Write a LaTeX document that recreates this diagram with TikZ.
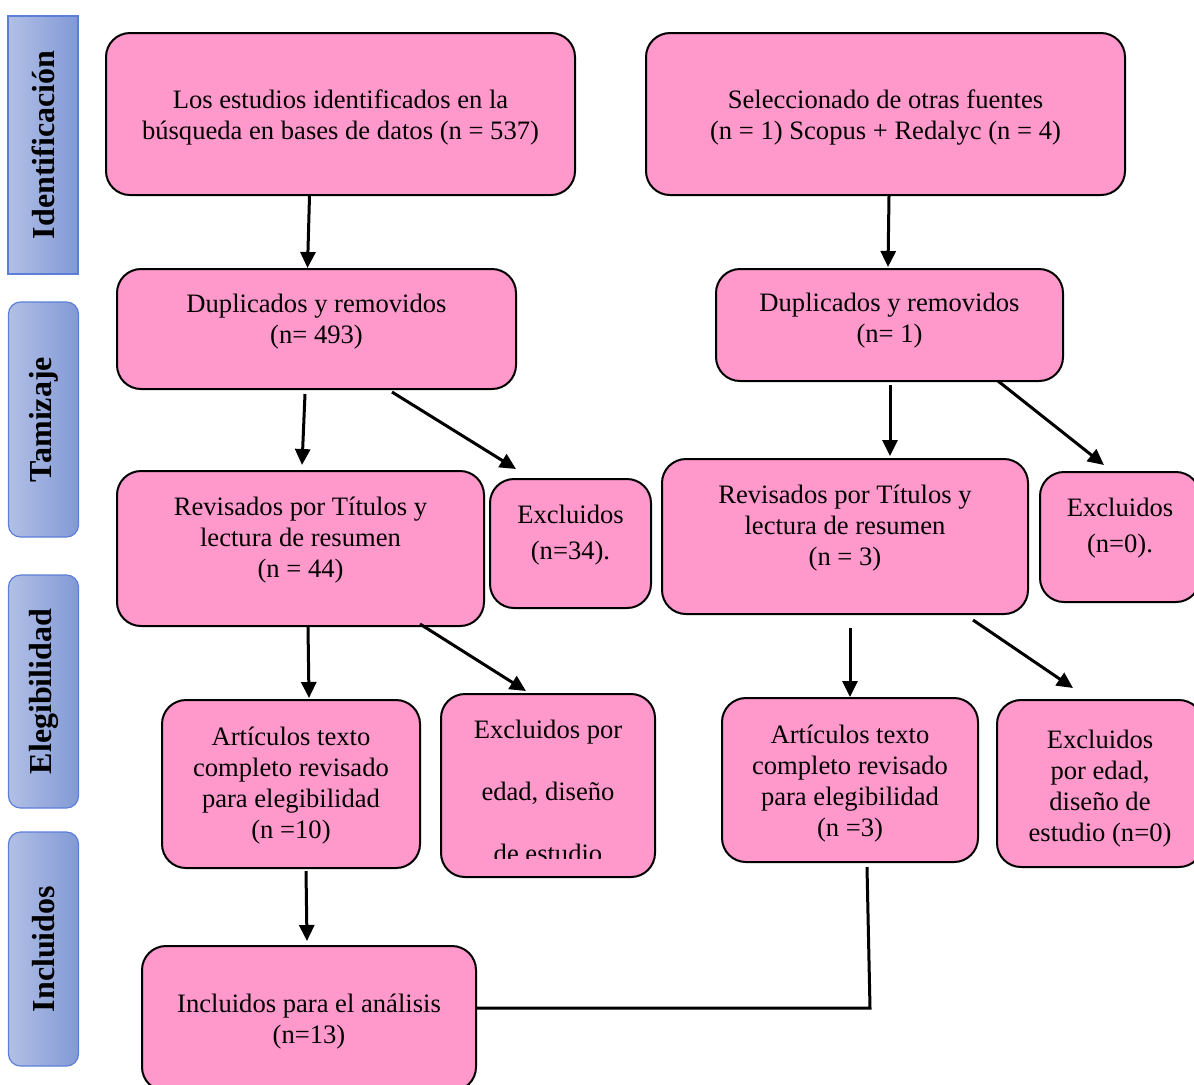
\documentclass[tikz,border=0pt]{standalone}
\usepackage{fontspec}
\setmainfont{Liberation Serif}
\usetikzlibrary{arrows.meta,calc}
\definecolor{rosa}{HTML}{FF99CC}
\definecolor{azulclaro}{HTML}{B2C0E6}
\definecolor{azuloscuro}{HTML}{8299D6}
\definecolor{azulborde}{HTML}{5B7FD6}

\begin{document}
\begin{tikzpicture}[x=0.5pt,y=-0.5pt,
    texto/.style={align=center, font=\fontsize{13.3}{15.5}\selectfont},
    caja/.style={draw=black, line width=1pt, fill=rosa, rounded corners=12pt, inner sep=2pt, texto},
    fase/.style={draw=azulborde, line width=0.6pt, left color=azulclaro, right color=azuloscuro, minimum width=35pt, inner sep=0pt, font=\fontsize{16}{18}\selectfont\bfseries},
    flecha/.style={line width=1.5pt, -{Triangle[length=8pt,width=7.5pt]}},
    linea/.style={line width=1.5pt}]
      \useasboundingbox (0,0) rectangle (1194,1084);

      \node[fase, minimum height=129pt] (idf) at (43,145) {\rotatebox{90}{Identificación}};
      \node[fase, rounded corners=6pt, minimum height=117.5pt] (tam) at (43.5,419.5) {\rotatebox{90}{Tamizaje}};
      \node[fase, rounded corners=6pt, minimum height=116.5pt] (ele) at (43.5,691.5) {\rotatebox{90}{Elegibilidad}};
      \node[fase, rounded corners=6pt, minimum height=117pt] (inc) at (43.5,949) {\rotatebox{90}{Incluidos}};

      \node[caja, minimum width=234.5pt, minimum height=81pt, label={[texto, yshift=-1.5pt]center:Los estudios identificados en la\\búsqueda en bases de datos (n = 537)}] (srcA) at (340.5,114) {};
      \node[caja, minimum width=239.5pt, minimum height=81pt, label={[texto, yshift=-1.5pt]center:Seleccionado de otras fuentes\\(n = 1) Scopus + Redalyc (n = 4)}] (srcB) at (885.5,114) {};
      \node[caja, minimum width=199.5pt, minimum height=60pt, label={[texto, yshift=3.5pt]center:Duplicados y removidos\\(n= 493)}] (dupA) at (316.5,329) {};
      \node[caja, minimum width=173.5pt, minimum height=56pt, label={[texto, yshift=2pt]center:Duplicados y removidos\\(n= 1)}] (dupB) at (889.5,325) {};
      \node[caja, minimum width=183.5pt, minimum height=77.5pt, label={[texto, yshift=4pt]center:Revisados por Títulos y\\lectura de resumen\\(n = 44)}] (revA) at (300.5,548.5) {};
      \node[caja, minimum width=80.5pt, minimum height=64.5pt, label={[texto, yshift=4pt]center:Excluidos\\[2.5pt](n=34).}] (excA) at (570.5,543.5) {};
      \node[caja, minimum width=183pt, minimum height=77.5pt, label={[texto, yshift=4pt]center:Revisados por Títulos y\\lectura de resumen\\(n = 3)}] (revB) at (845,536.5) {};
      \node[caja, minimum width=80pt, minimum height=65pt, label={[texto, yshift=4.5pt]center:Excluidos\\[2.5pt](n=0).}] (excB) at (1120,537) {};
      \node[caja, minimum width=129pt, minimum height=84pt, label={[texto, yshift=-1pt]center:Artículos texto\\completo revisado\\para elegibilidad\\(n =10)}] (artA) at (291,784) {};
      \node[caja, minimum width=107pt, minimum height=91.5pt] (edaA) at (548,785.5) {};
      \begin{scope}
        \clip (441,694) rectangle (655,858);
        \node[texto] (edaAtxt) at (548,791) {Excluidos por\\[15.5pt]edad, diseño\\[15.5pt]de estudio};
      \end{scope}
      \node[caja, minimum width=128pt, minimum height=82pt, label={[texto, yshift=-2pt]center:Artículos texto\\completo revisado\\para elegibilidad\\(n =3)}] (artB) at (850,780) {};
      \node[caja, minimum width=103pt, minimum height=83.5pt, label={[texto, yshift=-2.5pt]center:Excluidos\\por edad,\\diseño de\\estudio (n=0)}] (edaB) at (1100,783.5) {};
      \node[caja, minimum width=167pt, minimum height=72.5pt, label={[texto, yshift=-1.5pt]center:Incluidos para el análisis\\(n=13)}] (incl) at (309,1018.5) {};

      \draw[flecha] ($(srcA.south)+(-31,0)$) -- ($(dupA.north)+(-9,0)$);
      \draw[flecha] ($(srcB.south)+(3.5,0)$) -- ($(dupB.north)+(-1.5,-1)$);
      \draw[flecha] ($(dupA.south)+(-11.5,4)$) -- ($(revA.north)+(1.5,-5)$);
      \draw[flecha] ($(dupA.south)+(75.5,2)$) -- ($(excA.north)+(-54.5,-9)$);
      \draw[flecha] ($(dupB.south)+(0.5,3)$) -- ($(revB.north)+(45,-2)$);
      \draw[flecha] ($(dupB.south)+(108.5,-1)$) -- ($(excB.north)+(-16,-6)$);
      \draw[flecha] ($(revA.south)+(7.5,0)$) -- ($(artA.north)+(18,-1)$);
      \draw[flecha] ($(revA.south)+(119.5,-3)$) -- ($(edaA.north)+(-22,-2)$);
      \draw[flecha] ($(revB.south)+(5,13)$) -- ($(artB.north)+(0,0)$);
      \draw[flecha] ($(revB.south)+(128,5)$) -- ($(edaB.north)+(-27,-11)$);
      \draw[flecha] ($(artA.south)+(15,2)$) -- ($(incl.north)+(-2,-4)$);
      \draw[linea] ($(artB.south)+(17,4)$) -- ($(incl.east)+(393,-10.5)$) -- ($(incl.east)+(0,-10.5)$);
\end{tikzpicture}
\end{document}
